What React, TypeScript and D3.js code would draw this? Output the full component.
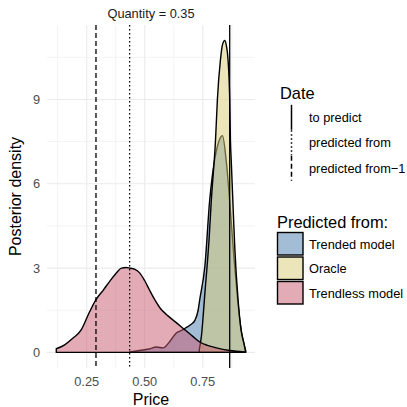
import React from "react";
import * as d3 from "d3";

// Posterior density samples, read as (price, density) pairs per model
const trendedPrice = [0.435, 0.47, 0.52, 0.55, 0.579, 0.608, 0.636, 0.658, 0.672, 0.7, 0.716, 0.73, 0.737, 0.759, 0.78, 0.79, 0.8, 0.815, 0.835, 0.852, 0.872, 0.885, 0.9, 0.915, 0.93, 0.935];
const trendedDensity = [0.02, 0.06, 0.12, 0.19, 0.16, 0.39, 0.69, 0.78, 0.85, 1.0, 1.14, 1.5, 1.88, 3.06, 5.43, 6.2, 6.8, 7.4, 7.71, 6.74, 4.72, 3.3, 1.9, 0.8, 0.2, 0.05];

const oraclePrice = [0.735, 0.744, 0.76, 0.777, 0.787, 0.805, 0.813, 0.826, 0.835, 0.845, 0.852, 0.859, 0.866, 0.869, 0.873, 0.881, 0.888, 0.902, 0.915, 0.928, 0.934];
const oracleDensity = [0.1, 0.57, 2.2, 4.0, 5.43, 7.57, 9.0, 10.4, 10.95, 11.1, 10.9, 10.4, 9.0, 7.6, 6.75, 5.1, 3.72, 1.88, 0.8, 0.3, 0.05];

const trendlessPrice = [0.119, 0.155, 0.19, 0.227, 0.26, 0.29, 0.32, 0.349, 0.375, 0.4, 0.42, 0.435, 0.458, 0.478, 0.5, 0.52, 0.545, 0.565, 0.6, 0.636, 0.672, 0.707, 0.737, 0.77, 0.809, 0.866, 0.931];
const trendlessDensity = [0.13, 0.27, 0.5, 0.81, 1.4, 1.88, 2.2, 2.53, 2.8, 3.0, 3.02, 3.0, 2.95, 2.83, 2.55, 2.23, 1.85, 1.59, 1.3, 1.06, 0.81, 0.57, 0.37, 0.25, 0.16, 0.07, 0.02];

const seriesNames = ["Trended model", "Oracle", "Trendless model"];
const seriesColors = ["#477bad", "#d9cb75", "#c7576d"];

// Reference dates
const dateNames = ["to predict", "predicted from", "predicted from\u22121"];
const datePrices = [0.866, 0.435, 0.29];
const dateDash = ["none", "1.5,2.5", "5,3"];

const xTicks = [0.25, 0.5, 0.75];
const xMinor = [0.125, 0.375, 0.625, 0.875];
const yTicks = [0, 3, 6, 9];
const yMinor = [1.5, 4.5, 7.5, 10.5];

const facetTitle = "Quantity = 0.35";

export default function App() {
  const W = 407, H = 407;
  const panel = { left: 47, right: 255, top: 25, bottom: 368 };

  const x = d3.scaleLinear().domain([0.079, 0.975]).range([panel.left, panel.right]);
  const y = d3.scaleLinear().domain([-0.555, 11.65]).range([panel.bottom, panel.top]);

  const area = d3
    .area<[number, number]>()
    .x((d) => x(d[0]))
    .y0(y(0))
    .y1((d) => y(d[1]))
    .curve(d3.curveMonotoneX);

  const series = [
    trendedPrice.map((p, i) => [p, trendedDensity[i]] as [number, number]),
    oraclePrice.map((p, i) => [p, oracleDensity[i]] as [number, number]),
    trendlessPrice.map((p, i) => [p, trendlessDensity[i]] as [number, number]),
  ];

  const font = "'Liberation Sans', Arial, Helvetica, sans-serif";
  const grid = "#ebebeb";

  return (
    <svg width={W} height={H} style={{ position: "absolute", left: 0, top: 0, background: "#fff" }} fontFamily={font}>
      {/* grid */}
      {xMinor.map((v) => (
        <line key={"xm" + v} x1={x(v)} x2={x(v)} y1={panel.top} y2={panel.bottom} stroke={grid} strokeWidth={0.6} />
      ))}
      {yMinor.map((v) => (
        <line key={"ym" + v} x1={panel.left} x2={panel.right} y1={y(v)} y2={y(v)} stroke={grid} strokeWidth={0.6} />
      ))}
      {xTicks.map((v) => (
        <line key={"xg" + v} x1={x(v)} x2={x(v)} y1={panel.top} y2={panel.bottom} stroke={grid} strokeWidth={1.1} />
      ))}
      {yTicks.map((v) => (
        <line key={"yg" + v} x1={panel.left} x2={panel.right} y1={y(v)} y2={y(v)} stroke={grid} strokeWidth={1.1} />
      ))}

      {/* densities */}
      {series.map((s, i) => (
        <path
          key={seriesNames[i]}
          d={area(s) + "Z"}
          fill={seriesColors[i]}
          fillOpacity={0.5}
          stroke="#000"
          strokeWidth={1.4}
          strokeLinejoin="round"
        />
      ))}

      {/* reference dates */}
      {datePrices.map((p, i) => (
        <line
          key={dateNames[i]}
          x1={x(p)}
          x2={x(p)}
          y1={panel.top}
          y2={panel.bottom}
          stroke="#000"
          strokeWidth={1.3}
          strokeDasharray={dateDash[i]}
        />
      ))}

      {/* axes text */}
      {xTicks.map((v) => (
        <text key={"xt" + v} x={x(v)} y={385.5} textAnchor="middle" fontSize={12.8} fill="#4d4d4d">
          {d3.format(".2f")(v)}
        </text>
      ))}
      {yTicks.map((v) => (
        <text key={"yt" + v} x={40} y={y(v) + 4.5} textAnchor="end" fontSize={12.8} fill="#4d4d4d">
          {v}
        </text>
      ))}
      <text x={(panel.left + panel.right) / 2} y={405} textAnchor="middle" fontSize={16} fill="#000">
        Price
      </text>
      <text
        transform={`translate(21,${(panel.top + panel.bottom) / 2}) rotate(-90)`}
        textAnchor="middle"
        fontSize={16}
        fill="#000"
      >
        Posterior density
      </text>
      <text x={(panel.left + panel.right) / 2} y={17.5} textAnchor="middle" fontSize={12.8} fill="#1a1a1a">
        {facetTitle}
      </text>

      {/* legend: dates */}
      <text x={280} y={99} fontSize={16.4} fill="#000">Date</text>
      {dateNames.map((n, i) => {
        const cy = 117.3 + i * 25.5;
        return (
          <g key={"dl" + n}>
            <line x1={291.5} x2={291.5} y1={cy - 12.5} y2={cy + 12.5} stroke="#000" strokeWidth={1.5} strokeDasharray={dateDash[i]} />
            <text x={309} y={cy + 4.5} fontSize={12.8} fill="#000">{n}</text>
          </g>
        );
      })}

      {/* legend: models */}
      <text x={277} y={227.5} fontSize={16.4} fill="#000">Predicted from:</text>
      {seriesNames.map((n, i) => {
        const top = 232 + i * 24.5;
        return (
          <g key={"fl" + n}>
            <rect x={277.5} y={top + 0.5} width={25.5} height={22.5} fill={seriesColors[i]} fillOpacity={0.5} stroke="#000" strokeWidth={1.4} />
            <text x={309} y={top + 16.5} fontSize={12.8} fill="#000">{n}</text>
          </g>
        );
      })}
    </svg>
  );
}
